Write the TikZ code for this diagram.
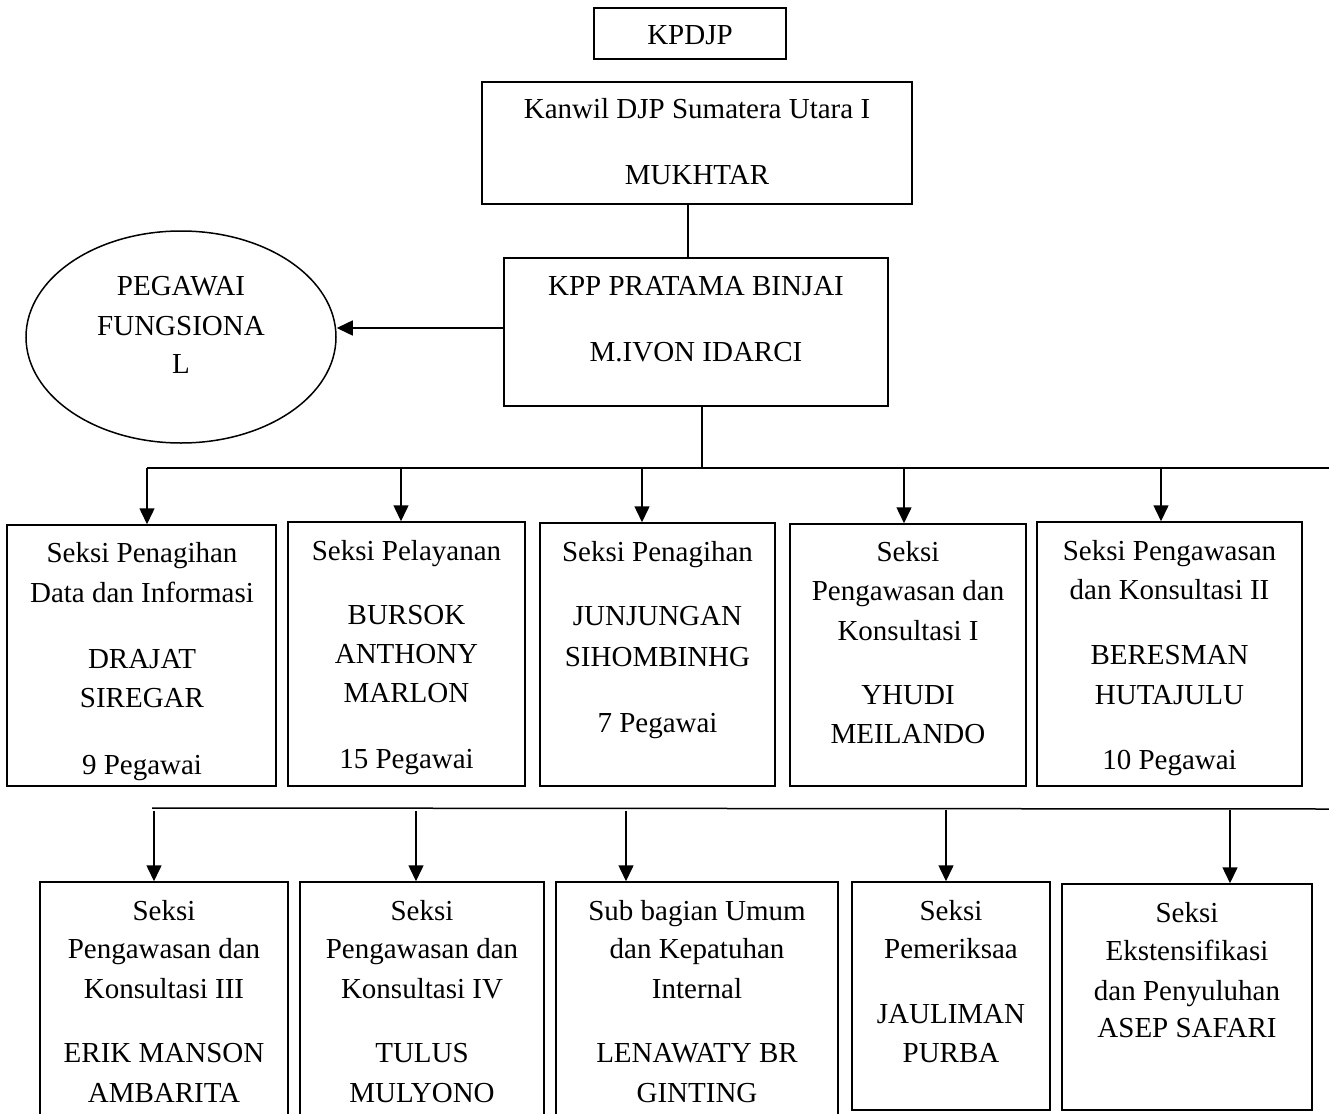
\documentclass[tikz,border=0pt]{standalone}
\usepackage{fontspec}
\setmainfont{Liberation Serif}
\usetikzlibrary{shapes.geometric,arrows.meta}
\begin{document}
\begin{tikzpicture}[x=1pt,y=-1pt,
  box/.style={draw, line width=1.5pt, inner sep=0pt},
  tx/.style={anchor=base, inner sep=0pt, font=\fontsize{29}{34}\selectfont},
  arr/.style={line width=1.5pt, -{Triangle[length=16pt,width=15pt]}},
  ln/.style={line width=1.5pt}]
\useasboundingbox (0,0) rectangle (1329,1113);

% top boxes
\node[box, minimum width=192pt, minimum height=51pt] (kpdjp) at (690,33.5) {};
\node[tx] (tk) at (690,45) {KPDJP};
\node[box, minimum width=430pt, minimum height=122pt] (kanwil) at (697,143) {};
\node[tx] (tk1) at (697,118) {Kanwil DJP Sumatera Utara I};
\node[tx] (tk2) at (697,184) {MUKHTAR};
\node[box, minimum width=384pt, minimum height=148pt] (kpp) at (696,332) {};
\node[tx] (tp1) at (696,295) {KPP PRATAMA BINJAI};
\node[tx] (tp2) at (696,361) {M.IVON IDARCI};
\node[box, ellipse, minimum width=310pt, minimum height=212pt] (peg) at (181,337) {};
\node[tx] (te1) at (181,295) {PEGAWAI};
\node[tx] (te2) at (181,335) {FUNGSIONA};
\node[tx] (te3) at (181,373) {L};

\coordinate (v1) at (688,0);
\draw[ln] (kanwil.south -| v1) -- (kpp.north -| v1);
\coordinate (e1) at (0,328);
\draw[arr] (kpp.west |- e1) -- (peg.east |- e1);

% first row
\node[box, minimum width=269pt, minimum height=261pt] (b1) at (141.5,655.5) {};
\node[box, minimum width=237pt, minimum height=264pt] (b2) at (406.5,654) {};
\node[box, minimum width=235pt, minimum height=263pt] (b3) at (657.5,654.5) {};
\node[box, minimum width=236pt, minimum height=262pt] (b4) at (908,655) {};
\node[box, minimum width=265pt, minimum height=264pt] (b5) at (1169.5,654) {};

\node[tx] at (142,562) {Seksi Penagihan};
\node[tx] at (142,602) {Data dan Informasi};
\node[tx] at (142,668) {DRAJAT};
\node[tx] at (142,707) {SIREGAR};
\node[tx] at (142,774) {9 Pegawai};

\node[tx] at (406.5,560) {Seksi Pelayanan};
\node[tx] at (406.5,624) {BURSOK};
\node[tx] at (406.5,663) {ANTHONY};
\node[tx] at (406.5,702) {MARLON};
\node[tx] at (406.5,768) {15 Pegawai};

\node[tx] at (657.5,561) {Seksi Penagihan};
\node[tx] at (657.5,625) {JUNJUNGAN};
\node[tx] at (657.5,666) {SIHOMBINHG};
\node[tx] at (657.5,732) {7 Pegawai};

\node[tx] at (908,561) {Seksi};
\node[tx] at (908,600) {Pengawasan dan};
\node[tx] at (908,640) {Konsultasi I};
\node[tx] at (908,704) {YHUDI};
\node[tx] at (908,743) {MEILANDO};

\node[tx] at (1169.5,560) {Seksi Pengawasan};
\node[tx] at (1169.5,599) {dan Konsultasi II};
\node[tx] at (1169.5,664) {BERESMAN};
\node[tx] at (1169.5,704) {HUTAJULU};
\node[tx] at (1169.5,769) {10 Pegawai};

\coordinate (t1) at (702,468);
\coordinate (h1L) at (147,468);
\coordinate (h1R) at (1329,468);
\draw[ln] (kpp.south -| t1) -- (t1);
\draw[ln] (h1L) -- (h1R);
\coordinate (a1) at (147,468);
\coordinate (a2) at (401,468);
\coordinate (a3) at (642,468);
\coordinate (a4) at (904,468);
\coordinate (a5) at (1161,468);
\draw[arr] (a1) -- (a1 |- b1.north);
\draw[arr] (a2) -- (a2 |- b2.north);
\draw[arr] (a3) -- (a3 |- b3.north);
\draw[arr] (a4) -- (a4 |- b4.north);
\draw[arr] (a5) -- (a5 |- b5.north);

% second row
\node[box, minimum width=248pt, minimum height=243pt] (c1) at (164,1003.5) {};
\node[box, minimum width=244pt, minimum height=243pt] (c2) at (422,1003.5) {};
\node[box, minimum width=282pt, minimum height=243pt] (c3) at (697,1003.5) {};
\node[box, minimum width=198pt, minimum height=228pt] (c4) at (951,996) {};
\node[box, minimum width=250pt, minimum height=226pt] (c5) at (1187,997) {};

\node[tx] at (164,920) {Seksi};
\node[tx] at (164,958) {Pengawasan dan};
\node[tx] at (164,998) {Konsultasi III};
\node[tx] at (164,1062) {ERIK MANSON};
\node[tx] at (164,1102) {AMBARITA};

\node[tx] at (422,920) {Seksi};
\node[tx] at (422,958) {Pengawasan dan};
\node[tx] at (422,998) {Konsultasi IV};
\node[tx] at (422,1062) {TULUS};
\node[tx] at (422,1102) {MULYONO};

\node[tx] at (697,920) {Sub bagian Umum};
\node[tx] at (697,958) {dan Kepatuhan};
\node[tx] at (697,998) {Internal};
\node[tx] at (697,1062) {LENAWATY BR};
\node[tx] at (697,1102) {GINTING};

\node[tx] at (951,920) {Seksi};
\node[tx] at (951,958) {Pemeriksaa};
\node[tx] at (951,1023) {JAULIMAN};
\node[tx] at (951,1062) {PURBA};

\node[tx] at (1187,922) {Seksi};
\node[tx] at (1187,960) {Ekstensifikasi};
\node[tx] at (1187,1000) {dan Penyuluhan};
\node[tx] at (1187,1037) {ASEP SAFARI};

\coordinate (h2L) at (152,808);
\coordinate (h2R) at (1329,809);
\draw[ln] (h2L) -- (h2R);
\coordinate (d1) at (154,811);
\coordinate (d2) at (416,811);
\coordinate (d3) at (626,811);
\coordinate (d4) at (946,810);
\coordinate (d5) at (1230,810);
\draw[arr] (d1) -- (d1 |- c1.north);
\draw[arr] (d2) -- (d2 |- c2.north);
\draw[arr] (d3) -- (d3 |- c3.north);
\draw[arr] (d4) -- (d4 |- c4.north);
\draw[arr] (d5) -- (d5 |- c5.north);
\end{tikzpicture}
\end{document}
